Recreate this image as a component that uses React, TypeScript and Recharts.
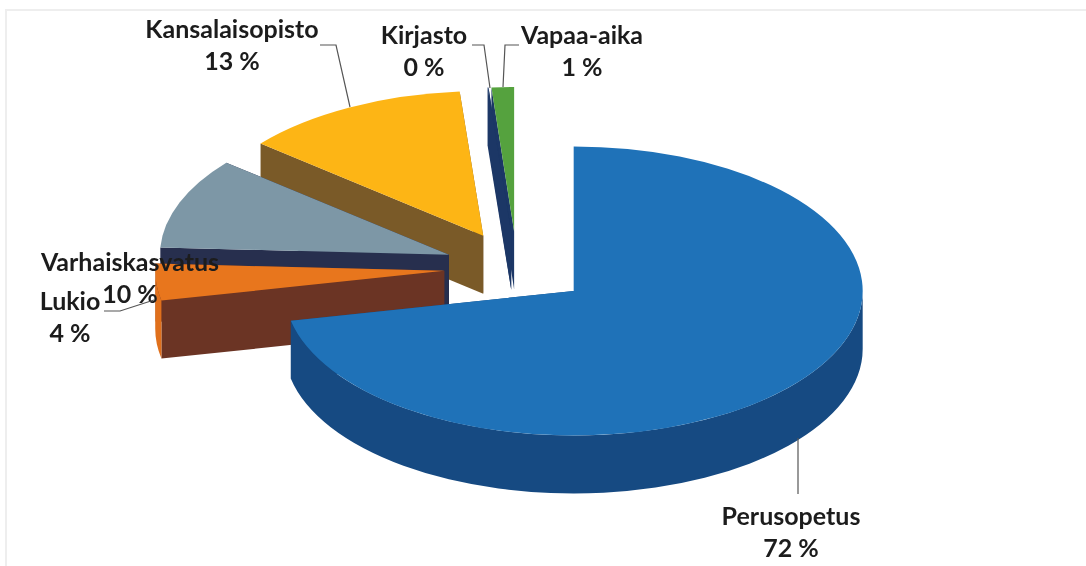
import { Pie, PieChart } from "recharts";

// Clockwise from twelve o'clock in the source; reversed below so near slices paint last.
const names = ["Perusopetus", "Lukio", "Varhaiskasvatus", "Kansalaisopisto", "Kirjasto", "Vapaa-aika"];
const shares = [71.7, 4.1, 10.2, 12.7, 0.05, 1.25];

const TOP = ["#1f72b8", "#e8761d", "#7d97a6", "#fdb515", "#1c3766", "#55a23e"];
const CUT = ["#16497f", "#6b3424", "#272f4e", "#7a5a28", "#1c3766", "#1c3766"];
const RIM = ["#164a82", "#e0701c", "#272f4e", "#7a5a28", "#1c3766", "#1c3766"];

const SQUASH = 0.5;
const DEPTH = 58;
const EXPLODE = 73;
const FONT = "Lato, sans-serif";

const LABELS: Record<string, { x: number; y: number; lead: string }> = {
  Perusopetus: { x: 791, y: 525, lead: "798,438 798,494" },
  Lukio: { x: 70, y: 310, lead: "104,311 120,311 154,300" },
  Varhaiskasvatus: { x: 130, y: 271, lead: "" },
  Kansalaisopisto: { x: 232, y: 38, lead: "320,45 336,45 350,107" },
  Kirjasto: { x: 424, y: 44, lead: "472,45 484,45 490,88" },
  "Vapaa-aika": { x: 582, y: 44, lead: "519,45 505,45 503,87" },
};

const data = names.map((name, i) => ({ name, value: shares[i] })).reverse();

function Wedge(props: any) {
  const { cx, cy, outerRadius: r, startAngle, endAngle, midAngle } = props;
  const name = props.name ?? props.payload?.name;
  const idx = names.indexOf(name);
  const rad = (a: number) => (a * Math.PI) / 180;
  const ox = cx + EXPLODE * Math.cos(rad(midAngle));
  const oy = cy - EXPLODE * SQUASH * Math.sin(rad(midAngle));
  const ry = r * SQUASH;
  const pt = (a: number, drop = 0) => `${ox + r * Math.cos(rad(a))} ${oy - ry * Math.sin(rad(a)) + drop}`;
  const apex = (drop = 0) => `${ox} ${oy + drop}`;
  const large = endAngle - startAngle > 180 ? 1 : 0;
  const cut = (a: number) => `M${apex()} L${pt(a)} L${pt(a, DEPTH)} L${apex(DEPTH)} Z`;
  const a0 = Math.max(startAngle, 180);
  const a1 = Math.min(endAngle, 360);
  return (
    <g>
      <path d={cut(startAngle)} fill={CUT[idx]} />
      <path d={cut(endAngle)} fill={CUT[idx]} />
      {a0 < a1 && (
        <path
          d={`M${pt(a0)} A${r} ${ry} 0 0 0 ${pt(a1)} L${pt(a1, DEPTH)} A${r} ${ry} 0 0 1 ${pt(a0, DEPTH)} Z`}
          fill={RIM[idx]}
        />
      )}
      <path d={`M${apex()} L${pt(startAngle)} A${r} ${ry} 0 ${large} 0 ${pt(endAngle)} Z`} fill={TOP[idx]} />
    </g>
  );
}

function SliceLabel(props: any) {
  const { name, percent } = props;
  const pos = LABELS[name];
  const common = { textAnchor: "middle" as const, fontFamily: FONT, fontWeight: 700, fontSize: 25, fill: "#1c1c1c" };
  return (
    <g>
      {pos.lead && <polyline points={pos.lead} fill="none" stroke="#555" strokeWidth={1.2} />}
      <text x={pos.x} y={pos.y} {...common}>{name}</text>
      <text x={pos.x} y={pos.y + 32} {...common}>{`${Math.round(percent * 100)} %`}</text>
    </g>
  );
}

export default function App() {
  return (
    <div style={{ position: "absolute", left: 0, top: 0, width: 1086, height: 566, overflow: "hidden", background: "#fff" }}>
      <div style={{ position: "absolute", left: 5, top: 9, width: 1079, height: 560, border: "2px solid #eeeeee", borderBottom: "none" }} />
      <PieChart width={1086} height={566} style={{ position: "absolute", left: 0, top: 0, filter: "blur(0.4px)" }}>
        <Pie
          data={data}
          dataKey="value"
          nameKey="name"
          cx={512}
          cy={263}
          outerRadius={289}
          startAngle={90}
          endAngle={450}
          stroke="none"
          shape={Wedge}
          label={SliceLabel}
          labelLine={false}
          isAnimationActive={false}
        />
      </PieChart>
    </div>
  );
}
